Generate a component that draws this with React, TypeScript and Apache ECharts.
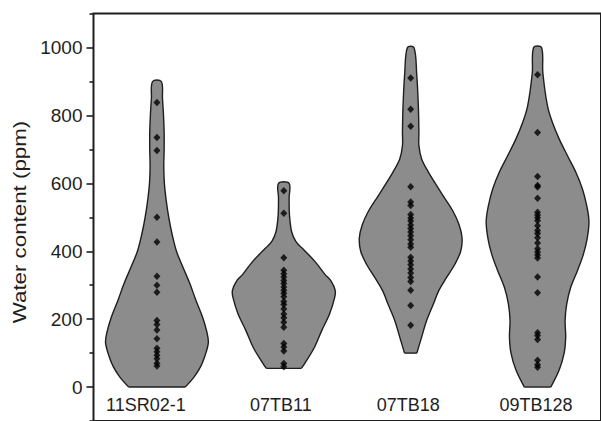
import React, { useEffect, useRef } from 'react';
import * as echarts from 'echarts';

const CATEGORIES = ['11SR02-1', '07TB11', '07TB18', '09TB128'];

// Water content measurements (ppm) for each sample
const SR02_1 = [838, 735, 697, 500, 427, 326, 300, 279, 196, 184, 168, 142, 114, 104, 94, 83, 70, 62];
const TB11 = [578, 512, 381, 344, 334, 324, 314, 305, 295, 285, 276, 266, 252, 243, 230, 215, 204, 191, 176, 128, 118, 106, 69, 60];
const TB18 = [910, 818, 768, 590, 545, 535, 508, 498, 489, 477, 467, 457, 446, 434, 421, 412, 382, 371, 360, 348, 336, 323, 311, 285, 240, 182];
const TB128 = [920, 750, 620, 594, 589, 556, 515, 507, 499, 490, 475, 461, 452, 440, 424, 407, 398, 389, 380, 324, 278, 160, 152, 140, 79, 66, 58];

// Violin outlines: [water content (ppm), relative half-width (1 = widest)]
const SR02_1_DENSITY = [
  [0, 0.55], [30, 0.725], [60, 0.85], [90, 0.93], [130, 1.0], [160, 0.975], [205, 0.89],
  [255, 0.76], [305, 0.64], [355, 0.5], [400, 0.38], [450, 0.295], [500, 0.23], [550, 0.18],
  [600, 0.145], [650, 0.133], [700, 0.14], [750, 0.14], [800, 0.128], [850, 0.108], [900, 0.085],
];
const TB11_DENSITY = [
  [55, 0.34], [69, 0.405], [118, 0.6], [167, 0.74], [215, 0.89], [264, 0.99], [285, 1.0],
  [312, 0.92], [332, 0.8], [371, 0.6], [410, 0.35], [430, 0.23], [459, 0.15], [507, 0.11],
  [556, 0.103], [600, 0.103],
];
const TB18_DENSITY = [
  [100, 0.12], [147, 0.213], [196, 0.31], [244, 0.44], [284, 0.547], [322, 0.696], [361, 0.857],
  [400, 0.973], [439, 1.0], [478, 0.942], [517, 0.826], [556, 0.663], [594, 0.503], [634, 0.342],
  [672, 0.213], [711, 0.16], [750, 0.16], [828, 0.149], [925, 0.116], [1000, 0.064],
];
const TB128_DENSITY = [
  [0, 0.257], [50, 0.42], [99, 0.516], [147, 0.547], [196, 0.536], [244, 0.567], [293, 0.644],
  [342, 0.774], [390, 0.89], [439, 0.967], [488, 1.0], [536, 0.954], [585, 0.87], [634, 0.741],
  [682, 0.58], [731, 0.42], [779, 0.29], [828, 0.193], [925, 0.103], [1000, 0.077],
];

const Y_LABELS = [0, 200, 400, 600, 800, 1000];
const Y_MINOR = [-100, 100, 300, 500, 700, 900, 1100];

const SAMPLES = [SR02_1, TB11, TB18, TB128];
const DENSITIES = [SR02_1_DENSITY, TB11_DENSITY, TB18_DENSITY, TB128_DENSITY];

const INK = '#1e1e1e';
const VIOLIN_FILL = '#8c8c8c';
const FONT = '"Liberation Sans", Arial, Helvetica, sans-serif';

// Right padding per category label, nudging each name slightly left of its violin
const LABEL_SHIFT = [22, 6, 5, 3];

export default function App() {
  const ref = useRef<HTMLDivElement>(null);

  useEffect(() => {
    if (!ref.current) return;
    const chart = echarts.init(ref.current, null, { renderer: 'svg' });

    const points: [number, number][] = [];
    SAMPLES.forEach((vals, i) => vals.forEach((v) => points.push([i, v])));

    const rich: Record<string, any> = {};
    LABEL_SHIFT.forEach((pad, i) => {
      rich['c' + i] = {
        fontSize: 18,
        fontFamily: FONT,
        color: INK,
        padding: [0, pad, 0, 0],
      };
    });

    chart.setOption({
      animation: false,
      backgroundColor: '#ffffff',
      grid: {
        left: 93.5,
        top: 13.6,
        width: 510.5,
        height: 411.2,
        show: true,
        borderWidth: 2,
        borderColor: INK,
        backgroundColor: 'transparent',
      },
      xAxis: {
        type: 'category',
        data: CATEGORIES,
        axisLine: { show: false },
        axisTick: { show: false },
        splitLine: { show: false },
        axisLabel: {
          inside: true,
          interval: 0,
          hideOverlap: false,
          margin: 7,
          fontSize: 18,
          color: INK,
          fontFamily: FONT,
          formatter: (value: string, index: number) => `{c${index}|${value}}`,
          rich,
        },
      },
      yAxis: [
        {
          type: 'value',
          min: -100,
          max: 1100,
          interval: 100,
          axisLine: { show: false },
          splitLine: { show: false },
          axisTick: {
            show: true,
            customValues: Y_LABELS,
            length: 7,
            lineStyle: { color: INK, width: 1.6 },
          },
          axisLabel: {
            customValues: Y_LABELS,
            margin: 11,
            fontSize: 19,
            color: INK,
            fontFamily: FONT,
            formatter: (v: number) => String(v),
          },
        },
        {
          type: 'value',
          position: 'left',
          min: -100,
          max: 1100,
          interval: 100,
          axisLine: { show: false },
          splitLine: { show: false },
          axisLabel: { show: false },
          axisTick: {
            show: true,
            customValues: Y_MINOR,
            length: 4,
            lineStyle: { color: INK, width: 1.6 },
          },
        },
      ],
      graphic: [
        {
          type: 'text',
          x: 19.5,
          y: 222,
          rotation: Math.PI / 2,
          scaleX: 1.24,
          style: {
            text: 'Water content (ppm)',
            fontSize: 18,
            fontFamily: FONT,
            fill: INK,
            align: 'center',
            verticalAlign: 'middle',
          },
        },
      ],
      series: [
        {
          type: 'custom',
          xAxisIndex: 0,
          yAxisIndex: 0,
          z: 1,
          data: CATEGORIES.map((_, i) => [i]),
          renderItem: (params: any, api: any) => {
            const idx = api.value(0) as number;
            const profile = DENSITIES[idx];
            const band = api.size([1, 0])[0];
            const maxHalf = band * 0.405;
            const right = profile.map(([v, w]) => {
              const p = api.coord([idx, v]);
              return [p[0] + w * maxHalf, p[1]];
            });
            const left = profile
              .slice()
              .reverse()
              .map(([v, w]) => {
                const p = api.coord([idx, v]);
                return [p[0] - w * maxHalf, p[1]];
              });
            const outline = right.concat(left);
            const bl = left[left.length - 1];
            const br = right[0];
            return {
              type: 'group',
              children: [
                {
                  type: 'polyline',
                  shape: { points: outline, smooth: 0.35 },
                  style: { fill: VIOLIN_FILL, stroke: INK, lineWidth: 1.4 },
                },
                {
                  type: 'line',
                  shape: { x1: bl[0], y1: bl[1], x2: br[0], y2: br[1] },
                  style: { stroke: INK, lineWidth: 1.4 },
                },
              ],
            };
          },
        },
        {
          type: 'scatter',
          xAxisIndex: 0,
          yAxisIndex: 0,
          z: 3,
          symbol: 'diamond',
          symbolSize: [7, 7.5],
          itemStyle: { color: '#000000' },
          data: points,
        },
      ],
    });

    return () => chart.dispose();
  }, []);

  return (
    <div
      ref={ref}
      style={{ position: 'fixed', left: 0, top: 0, width: 601, height: 421 }}
    />
  );
}
